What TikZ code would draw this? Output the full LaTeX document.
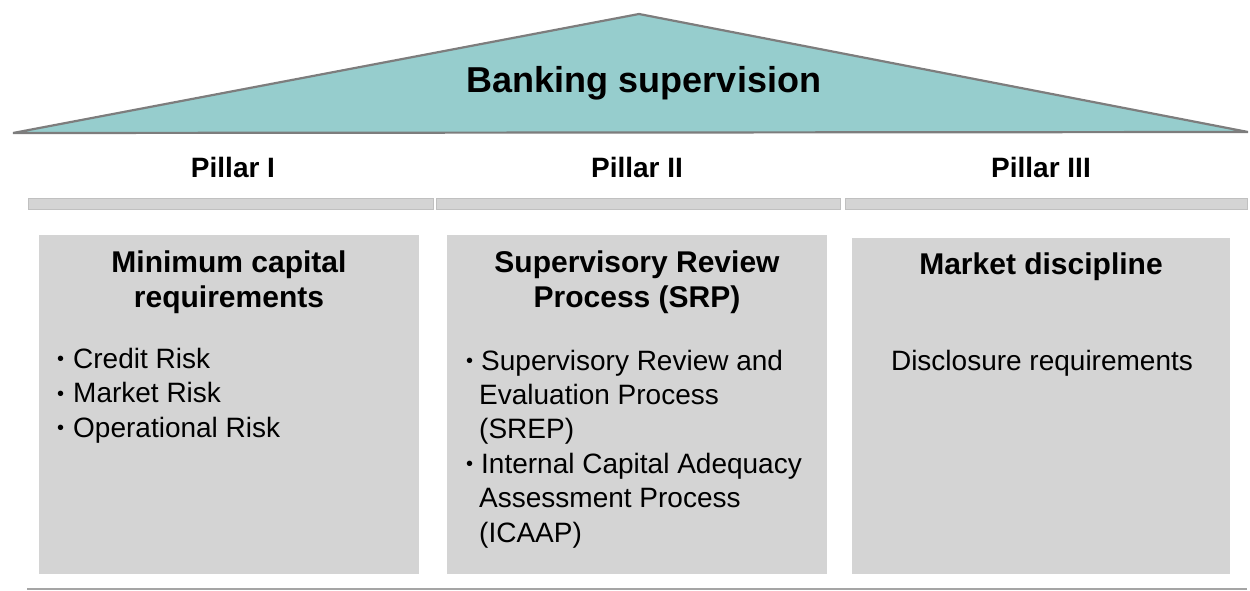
\documentclass[tikz,border=0pt]{standalone}
\usepackage{fontspec}
\setmainfont{Liberation Sans}
\definecolor{rooffill}{RGB}{150,205,205}
\definecolor{roofline}{RGB}{125,125,125}
\definecolor{boxgray}{RGB}{212,212,212}
\definecolor{barline}{RGB}{192,192,192}
\definecolor{bottomgray}{RGB}{165,165,165}
\newcommand{\mybul}[1]{\makebox[#1][l]{\hspace{2pt}\raisebox{2.5pt}{\fontsize{20}{20}\selectfont •}}}
\begin{document}
\begin{tikzpicture}[x=1pt,y=-1pt,
  titletext/.style={anchor=base,font=\bfseries\fontsize{36}{42}\selectfont},
  pillartext/.style={anchor=base,font=\bfseries\fontsize{28}{34}\selectfont},
  headtext/.style={anchor=base,align=center,font=\bfseries\fontsize{30}{35}\selectfont},
  bodytext/.style={anchor=base west,align=left,inner sep=0pt,font=\fontsize{28}{34.4}\selectfont},
  pillarbar/.style={fill=boxgray,draw=barline,line width=1pt},
  pillarbox/.style={fill=boxgray,draw=none}]
\useasboundingbox (0,0) rectangle (1250,591);
% roof
\coordinate (apex) at (639,14);
\coordinate (roofL) at (13,133);
\coordinate (roofR) at (1248,132);
\filldraw[fill=rooffill,draw=roofline,line width=2.2pt,line join=miter] (roofL) -- (apex) -- (roofR) -- cycle;
\node[titletext] (title) at (644,93) {Banking supervision};
% pillar labels
\node[pillartext] (p1) at (233,177) {Pillar I};
\node[pillartext] (p2) at (637,177) {Pillar II};
\node[pillartext] (p3) at (1041,177) {Pillar III};
% bars
\draw[pillarbar] (28,198) rectangle (433,209);
\draw[pillarbar] (436,198) rectangle (840,209);
\draw[pillarbar] (845,198) rectangle (1247,209);
% boxes
\fill[pillarbox] (39,235) rectangle (419,574);
\fill[pillarbox] (447,235) rectangle (827,574);
\fill[pillarbox] (852,238) rectangle (1230,574);
% box headings (base anchor = baseline of last line)
\node[headtext] (h1) at (229,307) {Minimum capital\\requirements};
\node[headtext] (h2) at (637,307) {Supervisory Review\\Process (SRP)};
\node[headtext] (h3) at (1041,274) {Market discipline};
% box bodies
\node[bodytext] (b1) at (55,437) {\mybul{18pt}Credit Risk\\\mybul{18pt}Market Risk\\\mybul{18pt}Operational Risk};
\node[bodytext] (b2) at (464,542) {\mybul{17pt}Supervisory Review and\\\hspace*{15pt}Evaluation Process\\\hspace*{15pt}(SREP)\\\mybul{17pt}Internal Capital Adequacy\\\hspace*{15pt}Assessment Process\\\hspace*{15pt}(ICAAP)};
\node[bodytext,anchor=base] (b3) at (1042,370) {Disclosure requirements};
% bottom line
\coordinate (bl) at (27,589);
\coordinate (br) at (1247,589);
\draw[draw=bottomgray,line width=2pt] (bl) -- (br);
\end{tikzpicture}
\end{document}
